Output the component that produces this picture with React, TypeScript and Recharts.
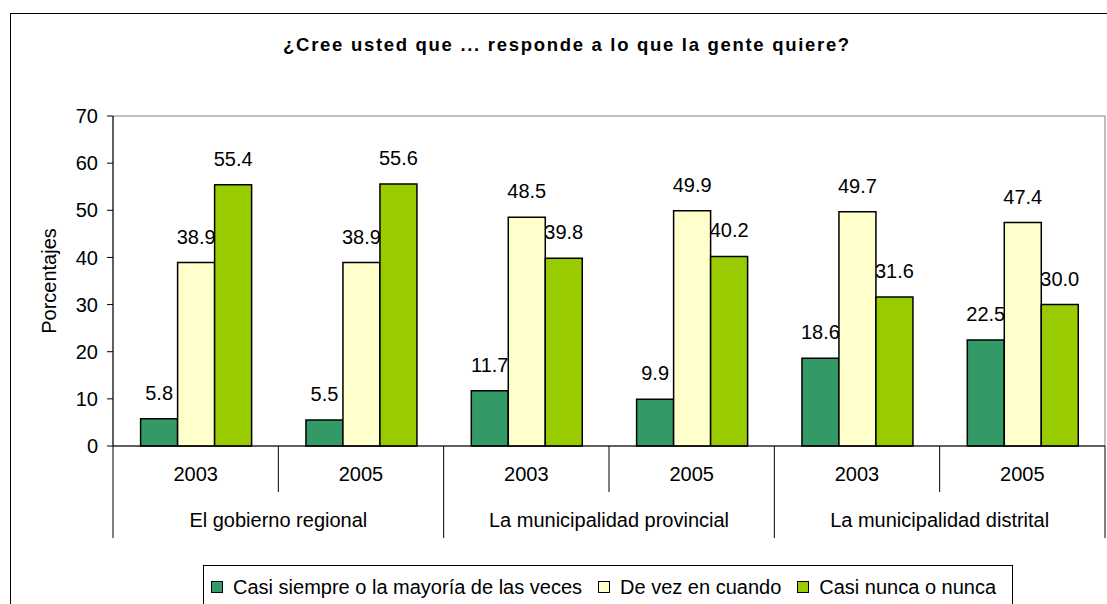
import { BarChart, Bar, XAxis, YAxis, LabelList, ReferenceArea, Label } from "recharts";

const years = ["2003", "2005", "2003", "2005", "2003", "2005"];
const groups = [
  "El gobierno regional",
  "El gobierno regional",
  "La municipalidad provincial",
  "La municipalidad provincial",
  "La municipalidad distrital",
  "La municipalidad distrital",
];
const casiSiempre = [5.8, 5.5, 11.7, 9.9, 18.6, 22.5];
const deVez = [38.9, 38.9, 48.5, 49.9, 49.7, 47.4];
const casiNunca = [55.4, 55.6, 39.8, 40.2, 31.6, 30.0];
const yTicks = [0, 10, 20, 30, 40, 50, 60, 70];
const seriesNames = [
  "Casi siempre o la mayoría de las veces",
  "De vez en cuando",
  "Casi nunca o nunca",
];

const W = 1107;
const H = 604;
const MARGIN = { top: 116, right: 2, left: 10, bottom: 66 };
const Y_WIDTH = 103;
const X_HEIGHT = 92;
const PLOT_W = W - MARGIN.left - MARGIN.right - Y_WIDTH;
const BAND = PLOT_W / years.length;
const FONT = "'Liberation Sans', Arial, sans-serif";

const colors = ["#339966", "#FFFFCC", "#99CC00"];
const keys = ["casi", "vez", "nunca"];

const data = years.map((year, i) => ({
  year,
  group: groups[i],
  casi: casiSiempre[i],
  vez: deVez[i],
  nunca: casiNunca[i],
}));

function CategoryTick(props: any) {
  const { x, y, payload, index } = props;
  const i = payload?.index ?? index;
  const half = BAND / 2;
  const isFirst = i % 2 === 0;
  return (
    <g>
      <line
        x1={x - half}
        x2={x - half}
        y1={y}
        y2={y + (isFirst ? X_HEIGHT : 46)}
        stroke="#000"
      />
      {i === years.length - 1 && (
        <line x1={x + half} x2={x + half} y1={y} y2={y + X_HEIGHT} stroke="#000" />
      )}
      <text x={x} y={y + 28} dy="0.355em" textAnchor="middle" fontSize={20} fill="#000" fontFamily={FONT}>
        {payload.value}
      </text>
      {isFirst && (
        <text x={x + half} y={y + 74} dy="0.355em" textAnchor="middle" fontSize={20} fill="#000" fontFamily={FONT}>
          {groups[i]}
        </text>
      )}
    </g>
  );
}

function YLabel(props: any) {
  const { viewBox } = props;
  const cx = viewBox.x + 39;
  const cy = viewBox.y + viewBox.height / 2;
  return (
    <text
      x={cx}
      y={cy}
      dy="0.355em"
      textAnchor="middle"
      fontSize={20}
      fill="#000"
      fontFamily={FONT}
      transform={`rotate(-90 ${cx} ${cy})`}
    >
      Porcentajes
    </text>
  );
}

export default function App() {
  return (
    <div style={{ position: "absolute", left: 0, top: 0, width: W, height: H, overflow: "hidden", background: "#fff", fontFamily: FONT }}>
      <div
        style={{
          position: "absolute",
          left: 10,
          top: 13,
          width: 1120,
          height: 620,
          border: "1px solid #000",
        }}
      />
      <div
        style={{
          position: "absolute",
          left: 0,
          width: 1134,
          top: 36,
          textAlign: "center",
          fontWeight: "bold",
          fontSize: 18.5,
          lineHeight: "18.5px",
          letterSpacing: 1.7,
          color: "#000",
        }}
      >
        ¿Cree usted que ... responde a lo que la gente quiere?
      </div>
      <div style={{ position: "absolute", left: 0, top: 0 }}>
        <BarChart
          width={W}
          height={H}
          data={data}
          margin={MARGIN}
          barCategoryGap="16.7%"
          barGap={0}
        >
          <ReferenceArea y1={0} y2={70} fill="none" stroke="#808080" strokeWidth={1} />
          <YAxis
            type="number"
            domain={[0, 70]}
            ticks={yTicks}
            width={Y_WIDTH}
            tickSize={6}
            tickMargin={9}
            axisLine={{ stroke: "#000" }}
            tickLine={{ stroke: "#000" }}
            tick={{ fontSize: 20, fill: "#000", fontFamily: FONT }}
          >
            <Label content={<YLabel />} />
          </YAxis>
          <XAxis
            dataKey="year"
            height={X_HEIGHT}
            interval={0}
            tickSize={0}
            tickMargin={0}
            tickLine={false}
            axisLine={{ stroke: "#000" }}
            tick={<CategoryTick />}
          />
          {keys.map((k, s) => (
            <Bar
              key={k}
              dataKey={k}
              name={seriesNames[s]}
              fill={colors[s]}
              stroke="#000"
              strokeWidth={1.5}
              isAnimationActive={false}
            >
              <LabelList
                dataKey={k}
                position="top"
                offset={19}
                fill="#000"
                fontSize={20}
                fontFamily={FONT}
                formatter={(v: any) => Number(v).toFixed(1)}
              />
            </Bar>
          ))}
        </BarChart>
      </div>
      <div
        style={{
          position: "absolute",
          left: 203,
          top: 565,
          width: 810,
          height: 50,
          border: "1px solid #000",
          boxSizing: "border-box",
          display: "flex",
          alignItems: "flex-start",
          paddingLeft: 7,
          paddingTop: 11,
          fontSize: 20,
          lineHeight: "20px",
          color: "#000",
        }}
      >
        {seriesNames.map((n, s) => (
          <div key={n} style={{ display: "flex", alignItems: "center", marginRight: 16 }}>
            <span
              style={{
                display: "inline-block",
                width: 12,
                height: 12,
                boxSizing: "border-box",
                border: "1px solid #000",
                background: colors[s],
                marginRight: 10,
              }}
            />
            <span style={{ whiteSpace: "nowrap" }}>{n}</span>
          </div>
        ))}
      </div>
    </div>
  );
}
